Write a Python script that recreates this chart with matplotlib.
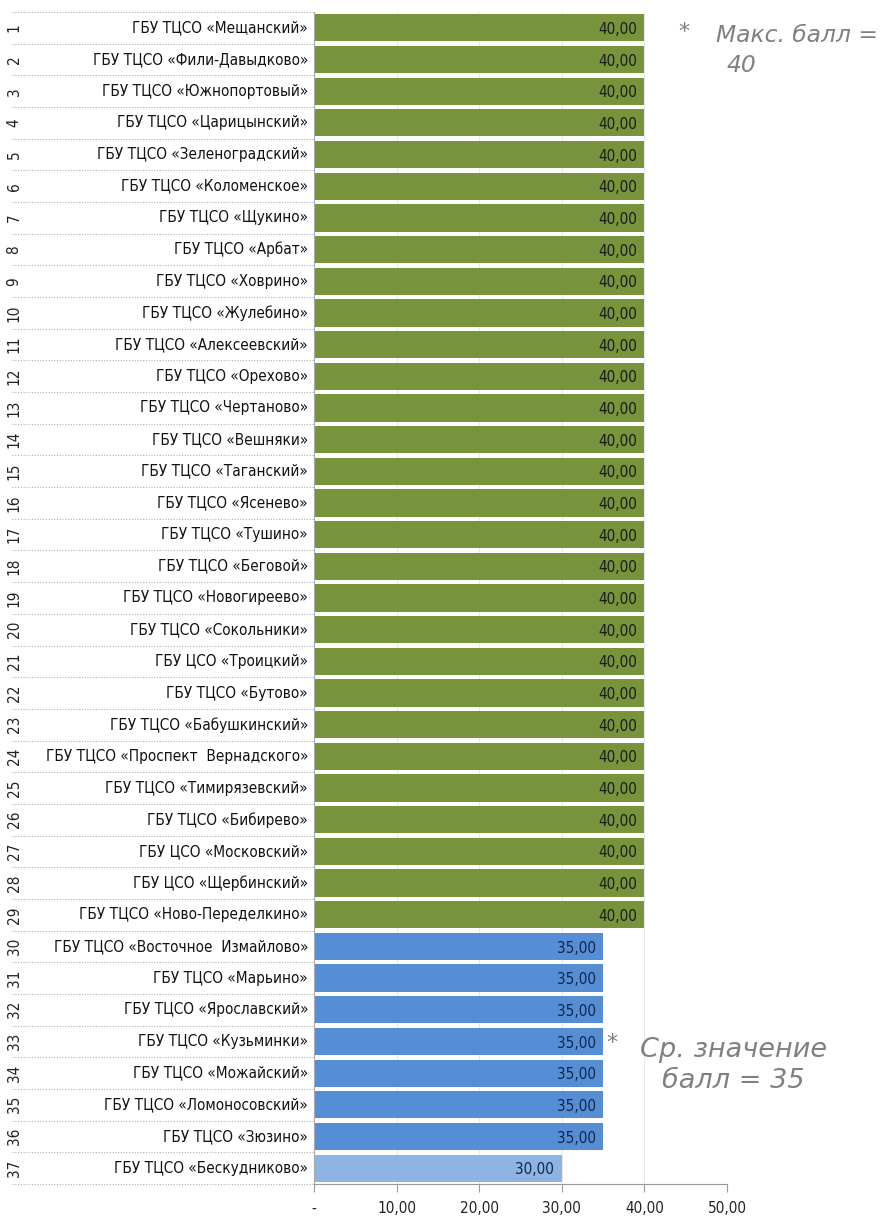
import matplotlib
matplotlib.use('Agg')
import matplotlib.pyplot as plt
import matplotlib.transforms as mtransforms
from matplotlib import font_manager

names = [
    'ГБУ ТЦСО «Мещанский»', 'ГБУ ТЦСО «Фили-Давыдково»', 'ГБУ ТЦСО «Южнопортовый»',
    'ГБУ ТЦСО «Царицынский»', 'ГБУ ТЦСО «Зеленоградский»', 'ГБУ ТЦСО «Коломенское»',
    'ГБУ ТЦСО «Щукино»', 'ГБУ ТЦСО «Арбат»', 'ГБУ ТЦСО «Ховрино»',
    'ГБУ ТЦСО «Жулебино»', 'ГБУ ТЦСО «Алексеевский»', 'ГБУ ТЦСО «Орехово»',
    'ГБУ ТЦСО «Чертаново»', 'ГБУ ТЦСО «Вешняки»', 'ГБУ ТЦСО «Таганский»',
    'ГБУ ТЦСО «Ясенево»', 'ГБУ ТЦСО «Тушино»', 'ГБУ ТЦСО «Беговой»',
    'ГБУ ТЦСО «Новогиреево»', 'ГБУ ТЦСО «Сокольники»', 'ГБУ ЦСО «Троицкий»',
    'ГБУ ТЦСО «Бутово»', 'ГБУ ТЦСО «Бабушкинский»', 'ГБУ ТЦСО «Проспект  Вернадского»',
    'ГБУ ТЦСО «Тимирязевский»', 'ГБУ ТЦСО «Бибирево»', 'ГБУ ЦСО «Московский»',
    'ГБУ ЦСО «Щербинский»', 'ГБУ ТЦСО «Ново-Переделкино»', 'ГБУ ТЦСО «Восточное  Измайлово»',
    'ГБУ ТЦСО «Марьино»', 'ГБУ ТЦСО «Ярославский»', 'ГБУ ТЦСО «Кузьминки»',
    'ГБУ ТЦСО «Можайский»', 'ГБУ ТЦСО «Ломоносовский»', 'ГБУ ТЦСО «Зюзино»',
    'ГБУ ТЦСО «Бескудниково»',
]
scores = [40] * 29 + [35] * 7 + [30]
x_ticks = [0, 10, 20, 30, 40, 50]
x_ticklabels = ['-', '10,00', '20,00', '30,00', '40,00', '50,00']

# pick a narrow face if one is there
installed = {f.name for f in font_manager.fontManager.ttflist}
narrow = [n for n in ['Liberation Sans Narrow', 'DejaVu Sans Condensed'] if n in installed]
plt.rcParams['font.family'] = narrow + ['DejaVu Sans']
plt.rcParams['font.stretch'] = 'condensed'

# colour by score band
band_colors = {40: '#77933C', 35: '#558ED5', 30: '#8DB4E2'}
text_colors = {40: '#1a1a1a', 35: '#10254a', 30: '#10254a'}

fig = plt.figure(figsize=(8.8, 12.22), dpi=100)
ax = fig.add_axes([314 / 880, 1 - 1184 / 1222, 413 / 880, 1172 / 1222])

ypos = list(range(len(names)))
ax.barh(ypos, scores, height=0.86, color=[band_colors[s] for s in scores], zorder=2)

for y, s in zip(ypos, scores):
    ax.text(s - 0.9, y + 0.05, f'{s:.2f}'.replace('.', ','), ha='right', va='center',
            fontsize=11, color=text_colors[s], zorder=3)

ax.set_xlim(0, 50)
ax.set_ylim(len(names) - 0.5, -0.5)
ax.set_xticks(x_ticks)
ax.set_xticklabels(x_ticklabels, fontsize=11, color='#222222')
ax.tick_params(axis='x', length=6, color='#999999', pad=6)
ax.set_yticks([])
ax.grid(True, axis='x', color='#e8e8e8', lw=0.8, zorder=0)

for sp in ['top', 'right']:
    ax.spines[sp].set_visible(False)
ax.spines['left'].set_color('#aaaaaa')
ax.spines['bottom'].set_color('#999999')

# category labels left of the axis
trans = mtransforms.blended_transform_factory(ax.transAxes, ax.transData)
x_num = (14 - 314) / 413
x_name = (308 - 314) / 413
x_sep = (12 - 314) / 413
for i, n in enumerate(names):
    ax.text(x_num, i, str(i + 1), transform=trans, rotation=90, ha='center', va='center',
            fontsize=11, color='#222222', clip_on=False)
    ax.text(x_name, i, n, transform=trans, ha='right', va='center',
            fontsize=11, color='#111111', clip_on=False)

for b in range(len(names) + 1):
    ax.plot([x_sep, 0], [b - 0.5, b - 0.5], transform=trans, color='#b0b0b0', lw=0.8,
            ls=(0, (1, 1.5)), clip_on=False)

# side notes
note = dict(color='#808080', style='italic', ha='left', va='center',
            family='DejaVu Sans', stretch='normal')
star = dict(fontsize=16, color='#808080', ha='left', va='center',
            family='DejaVu Sans', stretch='normal')
fig.text(678 / 880, 1 - 32 / 1222, '*', **star)
fig.text(716 / 880, 1 - 36 / 1222, 'Макс. балл =', fontsize=16.8, **note)
fig.text(727 / 880, 1 - 66 / 1222, '40', fontsize=16.8, **note)
fig.text(606 / 880, 1 - 1043 / 1222, '*', **star)
fig.text(640 / 880, 1 - 1050 / 1222, 'Ср. значение', fontsize=19.5, **note)
fig.text(662 / 880, 1 - 1081 / 1222, 'балл = 35', fontsize=19.5, **note)

fig.savefig('out.png', dpi=100, facecolor='white')
